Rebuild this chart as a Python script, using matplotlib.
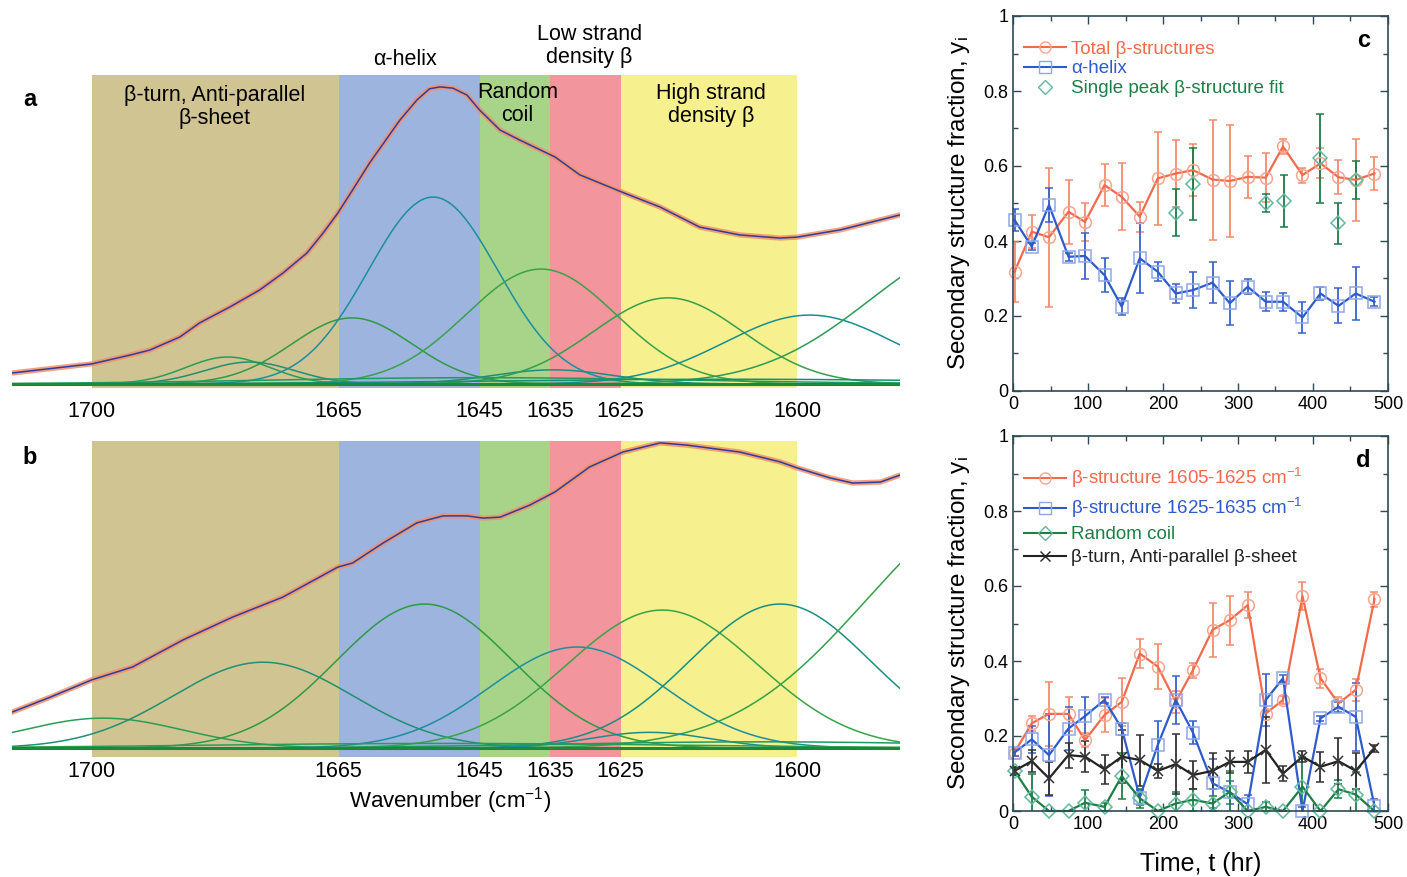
import matplotlib
matplotlib.use("Agg")
import matplotlib.pyplot as plt
import numpy as np
from matplotlib.lines import Line2D
from matplotlib.ticker import MultipleLocator

plt.rcParams['font.family'] = ['Liberation Sans', 'DejaVu Sans']
plt.rcParams['mathtext.fontset'] = 'custom'
plt.rcParams['mathtext.rm'] = 'Liberation Sans'
plt.rcParams['mathtext.it'] = 'Liberation Sans:italic'

# ===================== Données des spectres (a, b) =====================
region_edges = [1700, 1665, 1645, 1635, 1625, 1600]
region_colors = ['#d0c493', '#9db4de', '#a8d489', '#f2959c', '#f6f08e']
tick_wn = [1700, 1665, 1645, 1635, 1625, 1600]

wn_a = [1711.3, 1700.0, 1694.6, 1691.8, 1687.5, 1684.7, 1680.4, 1676.2, 1672.9, 1669.5,
        1667.2, 1665.1, 1663.0, 1660.6, 1656.3, 1653.9, 1652.1, 1650.6, 1648.8, 1646.8,
        1645.0, 1642.1, 1639.3, 1634.3, 1630.8, 1624.5, 1619.4, 1613.8, 1608.1, 1602.4,
        1600.0, 1593.9, 1585.4]
abs_a = [0.048, 0.077, 0.105, 0.121, 0.163, 0.208, 0.259, 0.313, 0.367, 0.431,
         0.495, 0.559, 0.633, 0.719, 0.856, 0.920, 0.956, 0.962, 0.958, 0.936,
         0.888, 0.824, 0.792, 0.738, 0.681, 0.623, 0.578, 0.514, 0.489, 0.479,
         0.482, 0.505, 0.553]

wn_b = [1711.3, 1705.8, 1700.0, 1694.2, 1687.1, 1680.0, 1672.9, 1665.1, 1663.0, 1658.7,
        1653.9, 1650.2, 1646.8, 1644.5, 1642.1, 1637.9, 1634.3, 1629.4, 1624.7, 1619.4,
        1615.6, 1608.1, 1602.4, 1600.0, 1595.3, 1592.1, 1588.2, 1585.4]
abs_b = [0.142, 0.190, 0.244, 0.285, 0.370, 0.443, 0.506, 0.601, 0.614, 0.677,
         0.741, 0.763, 0.763, 0.756, 0.759, 0.797, 0.839, 0.918, 0.965, 0.994,
         0.987, 0.965, 0.934, 0.915, 0.883, 0.867, 0.870, 0.892]

# bandes de la décomposition : centre (cm-1), hauteur, largeur
band_a_center = [1680.7, 1677.6, 1663.1, 1651.6, 1636.3, 1634.6, 1618.3, 1598.2, 1574.0, 1645.0, 1610.0]
band_a_height = [0.086, 0.070, 0.211, 0.597, 0.367, 0.045, 0.275, 0.220, 0.444, 0.020, 0.015]
band_a_width = [6.0, 6.4, 8.5, 9.2, 10.6, 8.5, 10.6, 12.0, 15.6, 30.0, 35.0]
base_a = 0.013

band_b_center = [1698.4, 1675.7, 1652.8, 1631.2, 1619.1, 1602.4, 1571.2, 1620.9, 1650.0, 1605.0]
band_b_height = [0.095, 0.272, 0.456, 0.320, 0.437, 0.456, 0.772, 0.050, 0.015, 0.020]
band_b_width = [11.3, 12.8, 12.5, 12.3, 13.5, 12.8, 19.0, 8.5, 35.0, 30.0]
base_b = 0.028

band_colors = ['#2a9d55', '#1f9070', '#2f9a45', '#1b8fa0', '#3aa248', '#1a8f80', '#35a04a',
               '#178f8f', '#2a9d55', '#1f9a60', '#169070']

# ===================== Données des fractions (c, d) =====================
t = [2, 25, 48, 74, 96, 122, 145, 169, 193, 217, 240, 266, 289, 313, 337, 360, 386, 410, 434, 457, 482]

c_total = [0.318, 0.425, 0.41, 0.478, 0.451, 0.549, 0.518, 0.465, 0.567, 0.58, 0.589,
           0.564, 0.56, 0.571, 0.569, 0.652, 0.576, 0.607, 0.57, 0.563, 0.58]
c_total_err = [0.08, 0.045, 0.185, 0.085, 0.05, 0.055, 0.09, 0.04, 0.125, 0.09, 0.07,
               0.16, 0.15, 0.055, 0.065, 0.02, 0.02, 0.04, 0.045, 0.11, 0.045]
c_alpha = [0.456, 0.385, 0.496, 0.358, 0.36, 0.309, 0.225, 0.354, 0.318, 0.26, 0.269,
           0.289, 0.234, 0.278, 0.238, 0.238, 0.196, 0.26, 0.227, 0.26, 0.238]
c_alpha_err = [0.03, 0.01, 0.045, 0.01, 0.062, 0.045, 0.022, 0.093, 0.025, 0.026, 0.047,
               0.055, 0.059, 0.02, 0.025, 0.024, 0.041, 0.018, 0.047, 0.07, 0.012]
t_single = [217, 240, 337, 361, 410, 434, 458]
c_single = [0.475, 0.552, 0.50, 0.507, 0.62, 0.447, 0.563]
c_single_err = [0.063, 0.097, 0.024, 0.069, 0.12, 0.054, 0.05]

d_high = [0.156, 0.234, 0.259, 0.259, 0.189, 0.256, 0.291, 0.42, 0.385, 0.291, 0.376,
          0.483, 0.509, 0.549, 0.26, 0.296, 0.573, 0.354, 0.287, 0.323, 0.565]
d_high_err = [0.01, 0.02, 0.085, 0.045, 0.018, 0.045, 0.065, 0.038, 0.06, 0.03, 0.02,
              0.073, 0.065, 0.035, 0.01, 0.01, 0.038, 0.025, 0.016, 0.03, 0.02]
d_low = [0.156, 0.191, 0.149, 0.22, 0.253, 0.296, 0.22, 0.036, 0.176, 0.296, 0.209,
         0.074, 0.05, 0.018, 0.296, 0.354, 0.0, 0.247, 0.278, 0.251, 0.013]
d_low_err = [0.01, 0.035, 0.11, 0.058, 0.05, 0.008, 0.016, 0.02, 0.065, 0.065, 0.031,
             0.066, 0.03, 0.025, 0.07, 0.01, 0.01, 0.007, 0.013, 0.09, 0.018]
d_coil = [0.107, 0.038, 0.0, 0.0, 0.022, 0.011, 0.093, 0.034, 0.0, 0.02, 0.03,
          0.02, 0.051, 0.0, 0.011, 0.0, 0.065, 0.0, 0.058, 0.044, 0.0]
d_coil_err = [0.01, 0.06, 0.0, 0.0, 0.034, 0.01, 0.062, 0.025, 0.0, 0.03, 0.03,
              0.02, 0.057, 0.0, 0.014, 0.0, 0.08, 0.0, 0.024, 0.06, 0.0]
d_turn = [0.107, 0.133, 0.087, 0.149, 0.145, 0.111, 0.145, 0.136, 0.107, 0.125, 0.096,
          0.107, 0.131, 0.131, 0.163, 0.1, 0.145, 0.118, 0.133, 0.107, 0.167]
d_turn_err = [0.01, 0.03, 0.045, 0.033, 0.042, 0.038, 0.07, 0.068, 0.018, 0.08, 0.038,
              0.047, 0.029, 0.029, 0.087, 0.02, 0.014, 0.04, 0.062, 0.049, 0.01]

RED, BLUE, GREEN, BLACK = '#f26a4b', '#2d5bcc', '#1c7f45', '#222222'
W, H = 1407, 877


def box(x0, y0, x1, y1):
    return [x0 / W, 1 - y1 / H, (x1 - x0) / W, (y1 - y0) / H]


fig = plt.figure(figsize=(14.07, 8.77), dpi=100)


# ===================== Panneaux a et b : spectres =====================
def spectre(ax, wn, ab, centers, heights, widths, base, pad):
    ax.set_xlim(1711.3, 1585.4)
    ax.set_ylim(0, 1)
    for k in range(len(region_colors)):
        ax.axvspan(region_edges[k], region_edges[k + 1], color=region_colors[k], lw=0, zorder=0)
    xx = np.linspace(1711.3, 1585.4, 500)
    for c, h, s, col in zip(centers, heights, widths, band_colors):
        ax.plot(xx, base + h * np.exp(-0.5 * ((xx - c) / s) ** 2), color=col, lw=1.1, zorder=2)
    ax.plot(xx, np.full_like(xx, base), color='#1a8a3a', lw=2.2, zorder=2)
    ax.plot(wn, ab, color='#f4906a', lw=3.8, alpha=0.85, zorder=3, solid_joinstyle='round')
    ax.plot(wn, ab, color='#2b3f9e', lw=1.1, zorder=4, solid_joinstyle='round')
    ax.set_xticks(tick_wn)
    ax.tick_params(axis='x', length=0, pad=pad, labelsize=15.5)
    ax.set_yticks([])
    for sp in ax.spines.values():
        sp.set_visible(False)


ax_a = fig.add_axes(box(12, 75, 900, 388))
spectre(ax_a, wn_a, abs_a, band_a_center, band_a_height, band_a_width, base_a, 9)
ax_b = fig.add_axes(box(12, 441, 900, 757))
spectre(ax_b, wn_b, abs_b, band_b_center, band_b_height, band_b_width, base_b, 3)

tr = ax_a.get_xaxis_transform()
fs_reg = 15.5
ax_a.text(1682.6, 0.898, 'β-turn, Anti-parallel\nβ-sheet', transform=tr, ha='center', va='center',
          fontsize=fs_reg, linespacing=1.15)
ax_a.text(1655.6, 1.048, 'α-helix', transform=tr, ha='center', va='center', fontsize=fs_reg)
ax_a.text(1639.6, 0.907, 'Random\ncoil', transform=tr, ha='center', va='center', fontsize=fs_reg,
          linespacing=1.15)
ax_a.text(1629.4, 1.093, 'Low strand\ndensity β', transform=tr, ha='center', va='center',
          fontsize=fs_reg, linespacing=1.15)
ax_a.text(1612.2, 0.904, 'High strand\ndensity β', transform=tr, ha='center', va='center',
          fontsize=fs_reg, linespacing=1.15)
fig.text(30 / W, 1 - 100 / H, 'a', fontsize=17, fontweight='bold', ha='center', va='center')
fig.text(30 / W, 1 - 457 / H, 'b', fontsize=17, fontweight='bold', ha='center', va='center')
fig.text(450 / W, 1 - 801 / H, 'Wavenumber (cm$^{-1}$)', fontsize=16, ha='center', va='center')


# ===================== Panneaux c et d : fractions =====================
def cadre(ax):
    ax.set_xlim(0, 500)
    ax.set_ylim(0, 1)
    ax.set_xticks([0, 100, 200, 300, 400, 500])
    ax.xaxis.set_minor_locator(MultipleLocator(50))
    ax.set_yticks([0, 0.2, 0.4, 0.6, 0.8, 1])
    ax.set_yticklabels(['0', '0.2', '0.4', '0.6', '0.8', '1'])
    ax.yaxis.set_minor_locator(MultipleLocator(0.1))
    ax.tick_params(which='both', direction='in', top=True, right=True, labelsize=13,
                   color='#2d4a55', width=1.0)
    ax.tick_params(which='major', length=6)
    ax.tick_params(which='minor', length=3.5)
    for sp in ax.spines.values():
        sp.set_color('#2d4a55')
        sp.set_linewidth(1.2)
    ax.set_ylabel('Secondary structure fraction, y$_{\\rm i}$', fontsize=17.5, labelpad=8)


def serie(ax, x, y, e, col, mk, mec, ecol, ms=8, ls='-'):
    cont = ax.errorbar(x, y, yerr=e, fmt=mk, ls=ls, color=col, ecolor=ecol, mfc='none', mec=mec,
                       ms=ms, mew=1.1, capsize=3, elinewidth=1.3, capthick=1.2, lw=1.6)
    cont[0].set_clip_on(False)
    return cont


ax_c = fig.add_axes(box(1013, 16, 1388, 391))
cadre(ax_c)
serie(ax_c, t, c_total, c_total_err, RED, 'o', '#f7a58e', '#f58a6c', ms=8.5)
serie(ax_c, t, c_alpha, c_alpha_err, BLUE, 's', '#8ea6ea', '#3a62cc', ms=8.5)
serie(ax_c, t_single, c_single, c_single_err, GREEN, 'D', '#62b89c', '#1c7a45', ms=7, ls='none')
h_c = [Line2D([], [], color=RED, marker='o', mfc='none', mec='#f7a58e', ms=8),
       Line2D([], [], color=BLUE, marker='s', mfc='none', mec='#8ea6ea', ms=8),
       Line2D([], [], ls='none', marker='D', mfc='none', mec='#62b89c', ms=7)]
leg = ax_c.legend(h_c, ['Total β-structures', 'α-helix', 'Single peak β-structure fit'],
                  loc='upper left', bbox_to_anchor=(0.01, 0.955), frameon=False, fontsize=13.5,
                  handlelength=2.2, handletextpad=0.3, labelspacing=0.15, borderaxespad=0)
for txt, col in zip(leg.get_texts(), [RED, BLUE, GREEN]):
    txt.set_color(col)
ax_c.text(0.935, 0.935, 'c', transform=ax_c.transAxes, fontsize=17, fontweight='bold',
          ha='center', va='center')

ax_d = fig.add_axes(box(1013, 436, 1388, 811))
cadre(ax_d)
serie(ax_d, t, d_high, d_high_err, RED, 'o', '#f7a58e', '#f58a6c', ms=8.5)
serie(ax_d, t, d_low, d_low_err, BLUE, 's', '#8ea6ea', '#3a62cc', ms=8.5)
serie(ax_d, t, d_coil, d_coil_err, GREEN, 'D', '#62b89c', '#1c7f45', ms=7)
serie(ax_d, t, d_turn, d_turn_err, BLACK, 'x', '#333333', '#333333', ms=7.5)
ax_d.set_xlabel('Time, t (hr)', fontsize=18, labelpad=14)
h_d = [Line2D([], [], color=RED, marker='o', mfc='none', mec='#f7a58e', ms=8),
       Line2D([], [], color=BLUE, marker='s', mfc='none', mec='#8ea6ea', ms=8),
       Line2D([], [], color=GREEN, marker='D', mfc='none', mec='#62b89c', ms=7),
       Line2D([], [], color=BLACK, marker='x', ms=7)]
leg = ax_d.legend(h_d, ['β-structure 1605-1625 cm$^{-1}$', 'β-structure 1625-1635 cm$^{-1}$',
                        'Random coil', 'β-turn, Anti-parallel β-sheet'],
                  loc='upper left', bbox_to_anchor=(0.01, 0.94), frameon=False, fontsize=13.5,
                  handlelength=2.2, handletextpad=0.3, labelspacing=0.32, borderaxespad=0)
for txt, col in zip(leg.get_texts(), [RED, BLUE, GREEN, BLACK]):
    txt.set_color(col)
ax_d.text(0.935, 0.935, 'd', transform=ax_d.transAxes, fontsize=17, fontweight='bold',
          ha='center', va='center')

fig.savefig('out.png', dpi=100)
